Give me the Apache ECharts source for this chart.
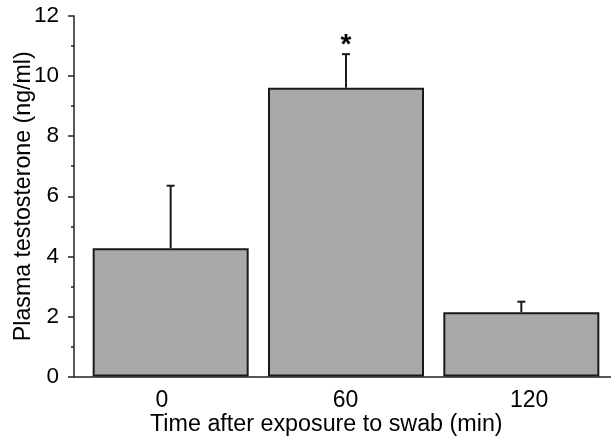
<!DOCTYPE html>
<html>
<head>
<meta charset="utf-8">
<script src="https://cdn.jsdelivr.net/npm/echarts@6/dist/echarts.min.js"></script>
<style>
html,body{margin:0;padding:0;background:#fff;}
#chart{width:611px;height:438px;}
</style>
</head>
<body>
<div id="chart"></div>
<script>
// Data
var categories = ['0', '60', '120'];
var means = [4.27, 9.61, 2.14];
var errorTops = [6.35, 10.73, 2.49];
var significance = ['', '*', ''];
var yTicks = [0, 2, 4, 6, 8, 10, 12];
var xTitle = 'Time after exposure to swab (min)';
var yTitle = 'Plasma testosterone (ng/ml)';

var FONT = '"Liberation Sans", Arial, sans-serif';
var chart = echarts.init(document.getElementById('chart'), null, {renderer: 'canvas'});

var errData = means.map(function (m, i) { return [i, m, errorTops[i], significance[i]]; });

chart.setOption({
  animation: false,
  backgroundColor: '#ffffff',
  title: {
    text: xTitle,
    left: 150,
    top: 413,
    padding: 0,
    textStyle: {fontFamily: FONT, fontSize: 23.3, fontWeight: 'normal', color: '#000'}
  },
  grid: [
    {left: 74, right: 0, top: 16, bottom: 61.5, outerBoundsMode: 'none', containLabel: false},
    {left: 83, width: 526, top: 16, bottom: 61.5, outerBoundsMode: 'none', containLabel: false},
    {left: 70, width: 551, top: 16, bottom: 61.5, outerBoundsMode: 'none', containLabel: false}
  ],
  xAxis: [
    {gridIndex: 0, type: 'value', min: 0, max: 1,
     axisLine: {show: true, onZero: false, lineStyle: {color: '#222', width: 1.5}},
     axisTick: {show: false}, axisLabel: {show: false}, splitLine: {show: false}},
    {gridIndex: 1, type: 'category', data: categories,
     axisLine: {show: false}, axisTick: {show: false}, axisLabel: {show: false}, splitLine: {show: false}},
    {gridIndex: 2, type: 'category', data: categories,
     axisLine: {show: false}, axisTick: {show: false}, splitLine: {show: false},
     axisLabel: {show: true, margin: 13, fontFamily: FONT, fontSize: 23, color: '#000'}}
  ],
  yAxis: [
    {gridIndex: 0, type: 'value', min: yTicks[0], max: yTicks[yTicks.length - 1], interval: 2,
     name: yTitle, nameLocation: 'middle', nameGap: 39, nameMoveOverlap: false,
     nameTextStyle: {fontFamily: FONT, fontSize: 23.2, color: '#000'},
     axisLine: {show: true, lineStyle: {color: '#222', width: 1.5}},
     axisTick: {show: true, length: 6, lineStyle: {color: '#222', width: 1.5}},
     minorTick: {show: true, splitNumber: 2, length: 3, lineStyle: {color: '#222', width: 1.5}},
     axisLabel: {margin: 15, fontFamily: FONT, fontSize: 22.5, color: '#000',
                 verticalAlign: 'middle', padding: [7, 0, 0, 0]},
     splitLine: {show: false}},
    {gridIndex: 1, type: 'value', min: 0, max: 12, show: false},
    {gridIndex: 2, type: 'value', min: 0, max: 12, show: false}
  ],
  series: [
    {
      type: 'bar', xAxisIndex: 1, yAxisIndex: 1,
      data: means, barWidth: 156,
      itemStyle: {color: '#a9a9a9', borderColor: '#1a1a1a', borderWidth: 2}
    },
    {
      type: 'custom', xAxisIndex: 1, yAxisIndex: 1,
      data: errData, z: 5,
      renderItem: function (params, api) {
        var x = api.value(0);
        var base = api.coord([x, api.value(1)]);
        var top = api.coord([x, api.value(2)]);
        var half = 4;
        var children = [
          {type: 'line', shape: {x1: base[0], y1: base[1], x2: top[0], y2: top[1]},
           style: {stroke: '#1a1a1a', lineWidth: 2}},
          {type: 'line', shape: {x1: top[0] - half, y1: top[1], x2: top[0] + half, y2: top[1]},
           style: {stroke: '#1a1a1a', lineWidth: 2}}
        ];
        var sig = api.value(3);
        if (sig) {
          children.push({type: 'text', style: {
            text: sig, x: top[0], y: top[1] + 5,
            align: 'center', verticalAlign: 'bottom',
            font: 'bold 28px ' + FONT, fill: '#000'}});
        }
        return {type: 'group', children: children};
      }
    }
  ]
});
</script>
</body>
</html>
